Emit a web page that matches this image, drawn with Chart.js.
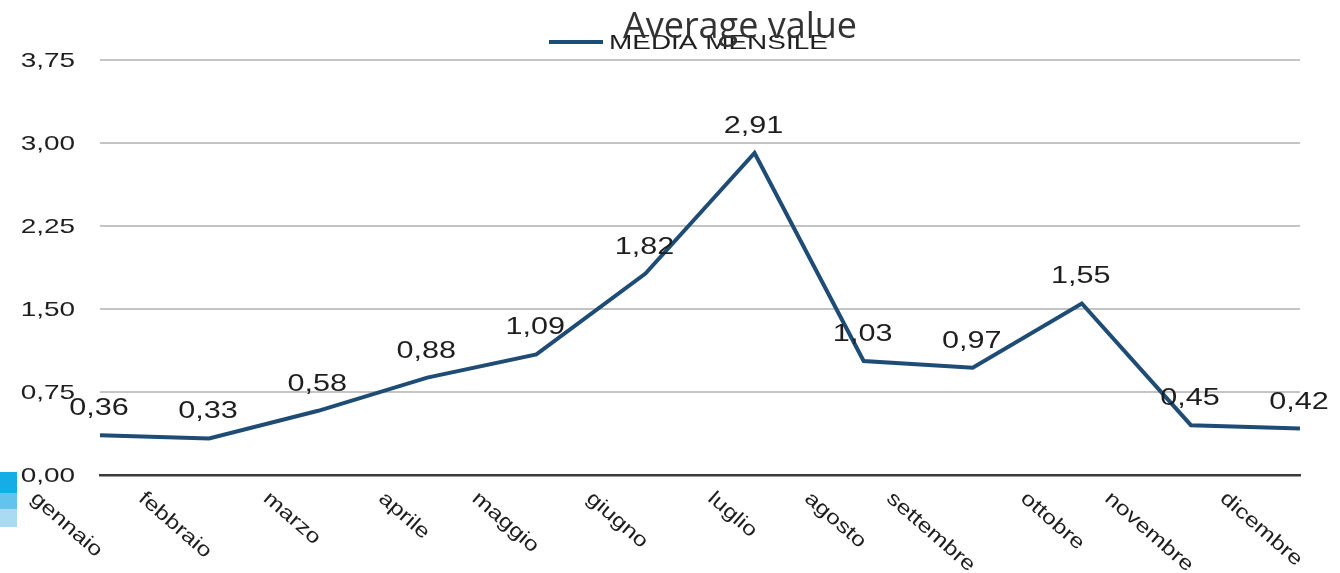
<!DOCTYPE html>
<html>
<head>
<meta charset="utf-8">
<title>Average value</title>
<script src="https://cdn.jsdelivr.net/npm/chart.js@4.4.1/dist/chart.umd.min.js"></script>
<style>
  html, body { margin: 0; padding: 0; background: #ffffff; }
  #wrap { width: 1340px; height: 573px; position: relative; }
</style>
</head>
<body>
<div id="wrap"><canvas id="chart" width="1340" height="573"></canvas></div>
<script>
// Monthly averages
const months = ['gennaio', 'febbraio', 'marzo', 'aprile', 'maggio', 'giugno',
                'luglio', 'agosto', 'settembre', 'ottobre', 'novembre', 'dicembre'];
const monthlyMean = [0.36, 0.33, 0.58, 0.88, 1.09, 1.82, 2.91, 1.03, 0.97, 1.55, 0.45, 0.42];
const yTickLabels = ['0,00', '0,75', '1,50', '2,25', '3,00', '3,75'];
const seriesName = 'MEDIA MENSILE';
const chartTitle = 'Average value';

const LINE_BLUE = '#1f4c74';
const TEXT_DARK = '#1e1e1e';
const LABEL_FONT = '"Liberation Sans", Arial, sans-serif';
const STRETCH = 1.33;                 // horizontally widened lettering
const ROT = 41 * Math.PI / 180;       // category label slant
const ROT_STRETCH = 1.24;             // widening along the slanted baseline

const fmt = v => v.toFixed(2).replace('.', ',');

// draw text widened horizontally around (x, y)
function wideText(ctx, text, x, y, align) {
  ctx.save();
  ctx.translate(x, y);
  ctx.scale(STRETCH, 1);
  ctx.textAlign = align;
  ctx.fillText(text, 0, 0);
  ctx.restore();
}

const textLayer = {
  id: 'textLayer',
  afterDraw(chart) {
    const ctx = chart.ctx;
    const xs = chart.scales.x;
    const ys = chart.scales.y;
    ctx.save();
    ctx.fillStyle = TEXT_DARK;

    // value axis labels
    ctx.font = '21px ' + LABEL_FONT;
    ctx.textBaseline = 'middle';
    ys.ticks.forEach(t => {
      wideText(ctx, t.label, 75, ys.getPixelForValue(t.value) + 1, 'right');
    });

    // slanted month labels, each ending under its category
    ctx.font = '20px ' + LABEL_FONT;
    ctx.textBaseline = 'alphabetic';
    chart.data.labels.forEach((lab, i) => {
      const w = ctx.measureText(lab).width;
      const tx = xs.getPixelForValue(i) - 4;
      const ax = tx - ROT_STRETCH * w * Math.cos(ROT);
      const ay = 500;
      ctx.save();
      ctx.translate(ax, ay);
      ctx.rotate(ROT);
      ctx.scale(ROT_STRETCH, 1);
      ctx.textAlign = 'left';
      ctx.fillText(lab, 0, 0);
      ctx.restore();
    });

    // point values
    ctx.font = '23px ' + LABEL_FONT;
    ctx.textBaseline = 'alphabetic';
    const meta = chart.getDatasetMeta(0);
    meta.data.forEach((pt, i) => {
      const v = chart.data.datasets[0].data[i];
      wideText(ctx, fmt(v), pt.x - 1, pt.y - 20, 'center');
    });

    // series key
    ctx.strokeStyle = LINE_BLUE;
    ctx.lineWidth = 4;
    ctx.beginPath();
    ctx.moveTo(549, 42);
    ctx.lineTo(603, 42);
    ctx.stroke();
    ctx.font = '21px ' + LABEL_FONT;
    ctx.textBaseline = 'alphabetic';
    wideText(ctx, chart.data.datasets[0].label, 609, 49, 'left');

    // heading
    ctx.fillStyle = '#333333';
    ctx.font = '36px "Open Sans", sans-serif';
    ctx.textAlign = 'center';
    ctx.fillText(chartTitle, 740, 38);

    // small tinted tabs at the lower left edge
    ctx.fillStyle = '#14ade6';
    ctx.fillRect(0, 472, 17, 21);
    ctx.fillStyle = '#62c3ec';
    ctx.fillRect(0, 493, 17, 16);
    ctx.fillStyle = '#abdbf3';
    ctx.fillRect(0, 509, 17, 18);
    ctx.restore();
  }
};

new Chart(document.getElementById('chart'), {
  type: 'line',
  data: {
    labels: months,
    datasets: [{
      label: seriesName,
      data: monthlyMean,
      borderColor: LINE_BLUE,
      backgroundColor: LINE_BLUE,
      borderWidth: 4,
      pointRadius: 0,
      pointHoverRadius: 0,
      tension: 0,
      fill: false,
      borderJoinStyle: 'miter'
    }]
  },
  options: {
    responsive: false,
    animation: false,
    devicePixelRatio: 1,
    layout: { padding: { top: 60, right: 40, left: 0, bottom: 0 } },
    plugins: {
      legend: { display: false },
      title: { display: false },
      tooltip: { enabled: false }
    },
    events: [],
    scales: {
      x: {
        type: 'category',
        offset: false,
        grid: { display: false, drawTicks: false },
        border: { display: true, color: '#3a3a3a', width: 2.5 },
        ticks: { display: false },
        afterFit: s => { s.height = 98; }
      },
      y: {
        min: 0,
        max: 3.75,
        ticks: {
          display: false,
          stepSize: 0.75,
          callback: (v, i) => yTickLabels[i]
        },
        grid: {
          drawTicks: false,
          lineWidth: 2,
          color: c => (c.tick && c.tick.value === 0) ? 'rgba(0,0,0,0)' : '#c4c4c4'
        },
        border: { display: false },
        afterFit: s => { s.width = 100; }
      }
    }
  },
  plugins: [textLayer]
});
</script>
</body>
</html>
